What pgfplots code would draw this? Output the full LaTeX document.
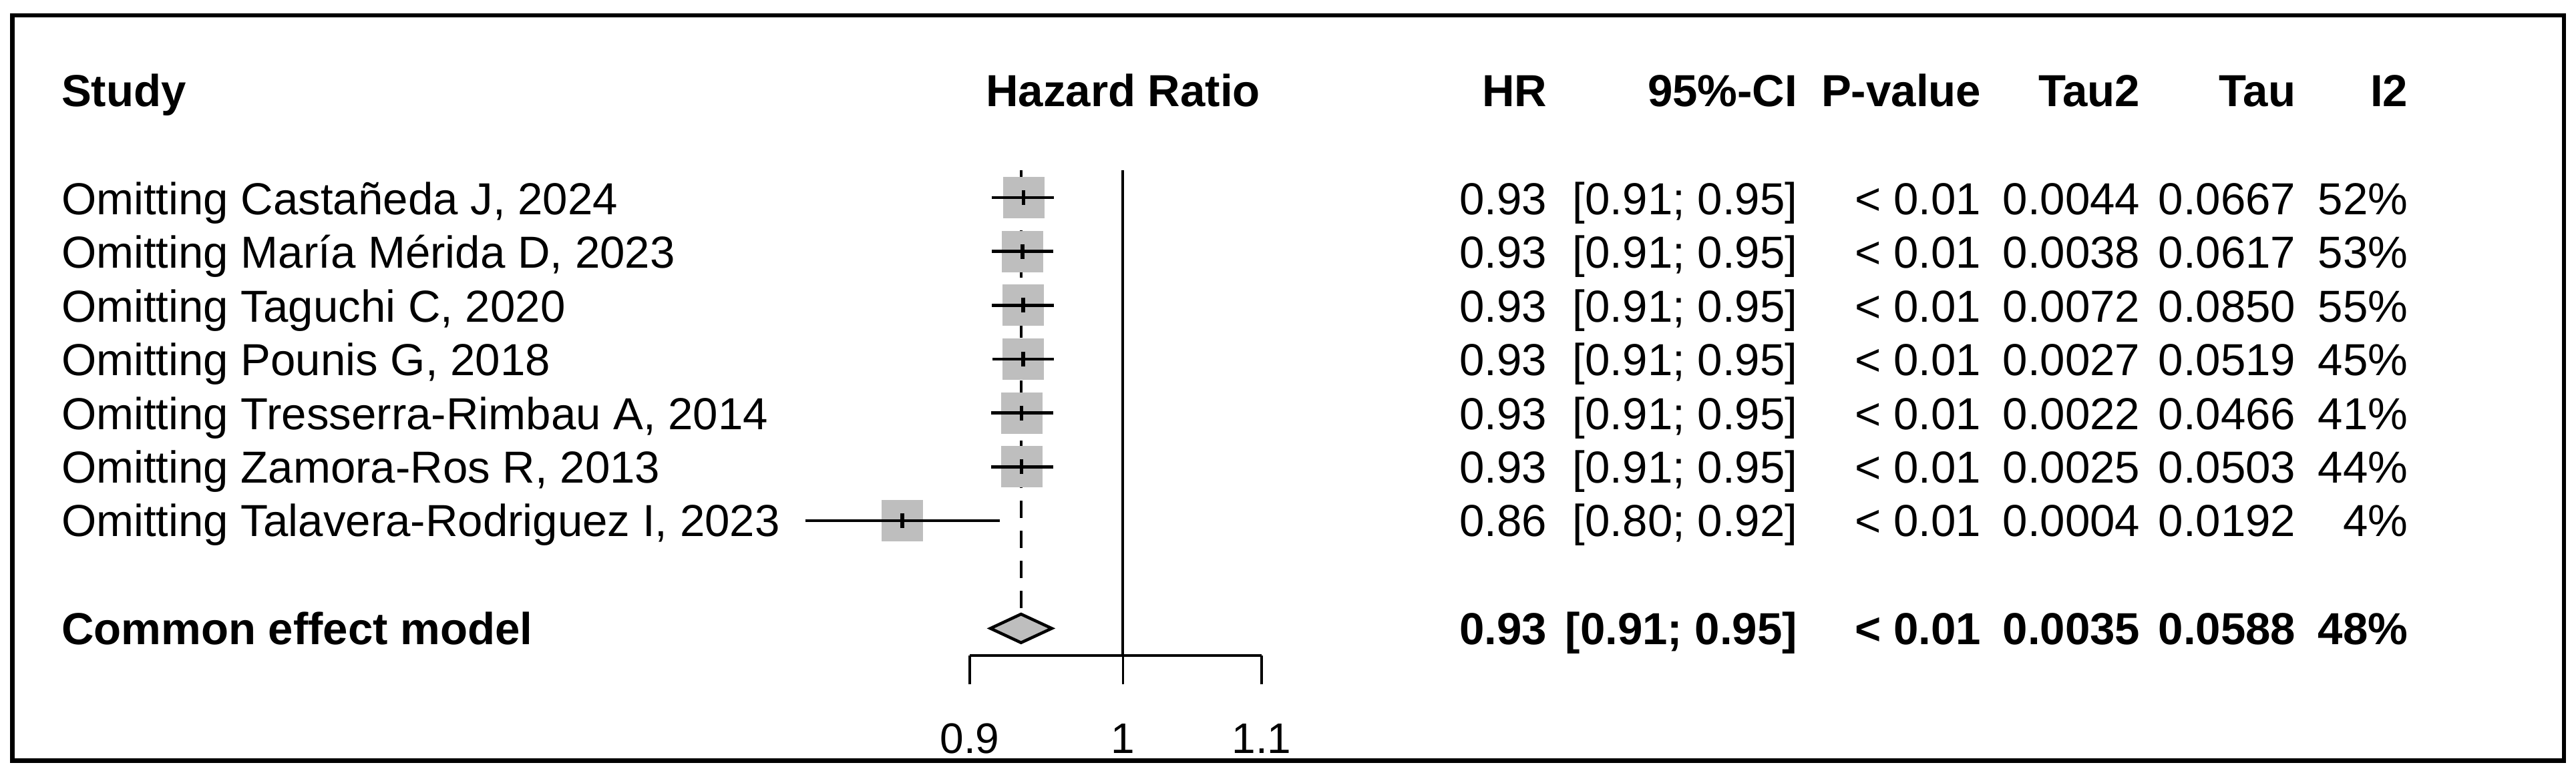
\documentclass[border=0pt]{standalone}
\usepackage{pgfplots}
\pgfplotsset{compat=1.18}
\usepackage{pgfplotstable}
\usepackage{fontspec}
\setmainfont{Liberation Sans}
\definecolor{boxgray}{RGB}{190,190,190}
\newcommand{\bodyfont}{\fontsize{6.72pt}{8pt}\selectfont}
\newcommand{\tickfont}{\fontsize{6.4pt}{7.5pt}\selectfont}

% study estimates (row, HR)
\pgfplotstableread{
row hr
-1 0.9339
-2 0.9332
-3 0.9336
-4 0.9336
-5 0.9327
-6 0.9327
-7 0.8592
}\estimates

\newcommand{\rowtext}[9][]{%
  \node[anchor=base west, inner sep=0, font=\bodyfont#1] at (90,#2) {#3};
  \node[anchor=base east, inner sep=0, font=\bodyfont#1] at (2318,#2) {#4};
  \node[anchor=base east, inner sep=0, font=\bodyfont#1] at (2693,#2) {#5};
  \node[anchor=base east, inner sep=0, font=\bodyfont#1] at (2968,#2) {#6};
  \node[anchor=base east, inner sep=0, font=\bodyfont#1] at (3206,#2) {#7};
  \node[anchor=base east, inner sep=0, font=\bodyfont#1] at (3439,#2) {#8};
  \node[anchor=base east, inner sep=0, font=\bodyfont#1] at (3607,#2) {#9};
}

\begin{document}
\begin{tikzpicture}
\useasboundingbox (0,0) rectangle (385.7pt,-116pt);
\begin{scope}[x=0.1pt,y=-0.1pt]
\draw[line width=0.65pt] (18.5,23) rectangle (3838.5,1139.5);
% header
\rowtext[\bfseries]{159}{Study}{HR}{95\%-CI}{P-value}{Tau2}{Tau}{I2}
\node[anchor=base, inner sep=0, font=\bodyfont\bfseries] at (1681.5,159) {Hazard Ratio};
% rows
\rowtext{321}{Omitting Castañeda J, 2024}{0.93}{[0.91; 0.95]}{< 0.01}{0.0044}{0.0667}{52\%}
\rowtext{401.5}{Omitting María Mérida D, 2023}{0.93}{[0.91; 0.95]}{< 0.01}{0.0038}{0.0617}{53\%}
\rowtext{482}{Omitting Taguchi C, 2020}{0.93}{[0.91; 0.95]}{< 0.01}{0.0072}{0.0850}{55\%}
\rowtext{562.5}{Omitting Pounis G, 2018}{0.93}{[0.91; 0.95]}{< 0.01}{0.0027}{0.0519}{45\%}
\rowtext{643}{Omitting Tresserra-Rimbau A, 2014}{0.93}{[0.91; 0.95]}{< 0.01}{0.0022}{0.0466}{41\%}
\rowtext{723.3}{Omitting Zamora-Ros R, 2013}{0.93}{[0.91; 0.95]}{< 0.01}{0.0025}{0.0503}{44\%}
\rowtext{803.7}{Omitting Talavera-Rodriguez I, 2023}{0.86}{[0.80; 0.92]}{< 0.01}{0.0004}{0.0192}{4\%}
\rowtext[\bfseries]{965}{Common effect model}{0.93}{[0.91; 0.95]}{< 0.01}{0.0035}{0.0588}{48\%}
\end{scope}

\begin{axis}[
  at={(145.2pt,-98.2pt)}, anchor=south west,
  scale only axis, width=43.7pt, height=72.7pt,
  xmode=log, xmin=0.9, xmax=1.1, ymin=-9.504, ymax=-0.492,
  clip=false, clip marker paths=true,
  axis x line=bottom, axis y line=none,
  axis line style={-, black, line width=0.35pt},
  xtick={0.9,1,1.1}, xticklabels={,,}, xminorticks=false,
  ytick=\empty,
  tick align=outside, major tick length=4.3pt,
  every tick/.style={black, line width=0.35pt},
]
% common-effect dashed reference
\addplot[black, line width=0.4pt, dash pattern=on 2.6pt off 1.9pt] coordinates {(0.9323,-0.492) (0.9323,-8.72)};
% line of no effect
\addplot[black, line width=0.4pt] coordinates {(1,-0.492) (1,-9.504)};
% squares
\addplot[only marks, mark=square*, mark size=3.05pt, mark options={fill=boxgray, draw=boxgray, line width=0.1pt}] table[x=hr, y=row] {\estimates};
% confidence intervals
\addplot[black, line width=0.45pt] coordinates {(0.9137,-1) (0.9535,-1)};
\addplot[black, line width=0.45pt] coordinates {(0.9137,-2) (0.9532,-2)};
\addplot[black, line width=0.45pt] coordinates {(0.9139,-3) (0.9535,-3)};
\addplot[black, line width=0.45pt] coordinates {(0.9143,-4) (0.9535,-4)};
\addplot[black, line width=0.45pt] coordinates {(0.9135,-5) (0.9530,-5)};
\addplot[black, line width=0.45pt] coordinates {(0.9135,-6) (0.9530,-6)};
\addplot[black, line width=0.45pt] coordinates {(0.8037,-7) (0.9186,-7)};
% point estimate ticks
\addplot[only marks, mark=|, mark size=1.1pt, mark options={black, line width=0.55pt}] table[x=hr, y=row] {\estimates};
% diamond
\addplot[fill=boxgray, draw=black, line width=0.45pt] coordinates {(0.9129,-9) (0.9323,-8.735) (0.9522,-9) (0.9323,-9.265) (0.9129,-9)} -- cycle;
% tick labels
\node[anchor=base, inner sep=0, font=\tickfont, yshift=-14.6pt] at (axis cs:0.9,-9.504) {0.9};
\node[anchor=base, inner sep=0, font=\tickfont, yshift=-14.6pt] at (axis cs:1,-9.504) {1};
\node[anchor=base, inner sep=0, font=\tickfont, yshift=-14.6pt] at (axis cs:1.1,-9.504) {1.1};
\end{axis}
\end{tikzpicture}
\end{document}
